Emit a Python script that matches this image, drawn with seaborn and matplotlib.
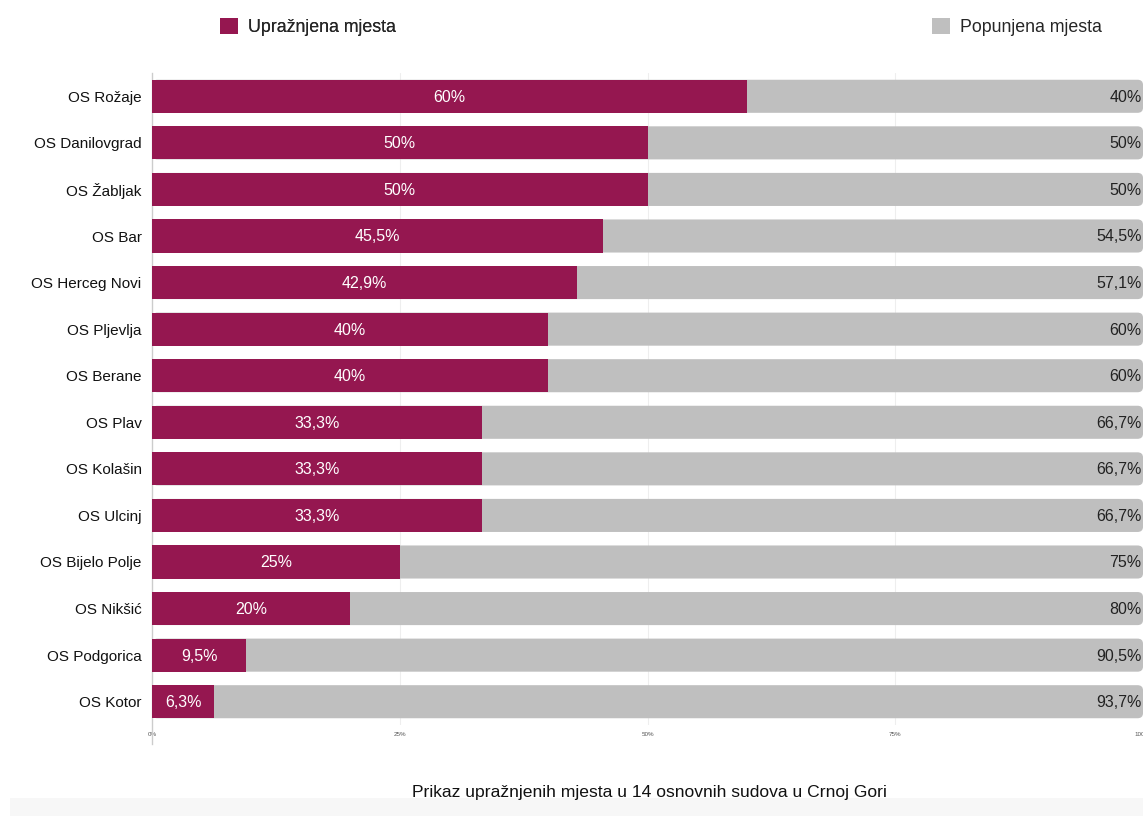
import matplotlib
matplotlib.use("Agg")
import matplotlib.pyplot as plt
import seaborn as sns
import pandas as pd
from matplotlib.patches import FancyBboxPatch, Patch, Rectangle

courts = ["OS Rožaje", "OS Danilovgrad", "OS Žabljak", "OS Bar", "OS Herceg Novi",
          "OS Pljevlja", "OS Berane", "OS Plav", "OS Kolašin", "OS Ulcinj",
          "OS Bijelo Polje", "OS Nikšić", "OS Podgorica", "OS Kotor"]
vacant = [60, 50, 50, 45.5, 42.9, 40, 40, 33.3, 33.3, 33.3, 25, 20, 9.5, 6.3]
filled = [40, 50, 50, 54.5, 57.1, 60, 60, 66.7, 66.7, 66.7, 75, 80, 90.5, 93.7]
xticks = [0, 25, 50, 75, 100]
xticklabels = ["0%", "25%", "50%", "75%", "100%"]
legend_labels = ["Upražnjena mjesta", "Popunjena mjesta"]
caption = "Prikaz upražnjenih mjesta u 14 osnovnih sudova u Crnoj Gori"

C_VAC = "#951750"
C_FIL = "#BFBFBF"

sns.set_theme(style="white")
plt.rcParams["font.family"] = ["Liberation Sans", "DejaVu Sans"]

df = pd.DataFrame({"court": courts, "vacant": vacant, "filled": filled})
df["total"] = df["vacant"] + df["filled"]

fig = plt.figure(figsize=(11.43, 8.16), dpi=100)
H = 816.0
ax = fig.add_axes([152 / 1143, 1 - 725 / H, (1143 - 152) / 1143, (725 - 73) / H])

sns.barplot(data=df, y="court", x="total", color=C_FIL, orient="h", width=0.71,
            ax=ax, saturation=1, linewidth=0, zorder=2)
# replace gray bars with rounded ones
gray_patches = list(ax.patches)
for p in gray_patches:
    x0, y0, w, h = p.get_x(), p.get_y(), p.get_width(), p.get_height()
    p.remove()
    fb = FancyBboxPatch((x0, y0), w, h,
                        boxstyle="round,pad=0,rounding_size=0.55",
                        mutation_aspect=0.2,
                        facecolor=C_FIL, edgecolor="none", zorder=2)
    ax.add_patch(fb)

sns.barplot(data=df, y="court", x="vacant", color=C_VAC, orient="h", width=0.71,
            ax=ax, saturation=1, linewidth=0, zorder=3)

def fmt(v):
    s = f"{v:.1f}".rstrip("0").rstrip(".")
    return s.replace(".", ",") + "%"

for i, (v, f) in enumerate(zip(vacant, filled)):
    ax.text(v / 2, i + 0.02, fmt(v), ha="center", va="center", color="white",
            fontsize=11.5, zorder=4)
    ax.text(v + f - 0.15, i + 0.02, fmt(f), ha="right", va="center", color="#222222",
            fontsize=11.5, zorder=4)

ax.set_xlim(0, 100)
ax.set_ylim(13.5, -0.5)
ax.set_xticks(xticks)
ax.set_xticklabels(xticklabels, fontsize=4.5, color="#555555")
ax.set_xlabel("")
ax.set_ylabel("")
ax.tick_params(axis="y", labelsize=11, labelcolor="#111111", length=0, pad=7.5)
ax.tick_params(axis="x", length=0, pad=5)
for x in xticks[1:-1]:
    ax.axvline(x, color="#EEEEEE", lw=0.8, zorder=1)
for s in ["top", "right", "bottom"]:
    ax.spines[s].set_visible(False)
ax.spines["left"].set_color("#CCCCCC")
ax.spines["left"].set_linewidth(1.0)
ax.spines["left"].set_bounds(13.9, -0.5)
ax.spines["left"].set_clip_on(False)

# legends
h1 = Patch(facecolor=C_VAC, edgecolor="none")
h2 = Patch(facecolor=C_FIL, edgecolor="none")
leg1 = fig.legend([h1], [legend_labels[0]], loc="center left",
                  bbox_to_anchor=(204 / 1143, 1 - 27 / H), frameon=False,
                  fontsize=12.8, handlelength=1.0, handleheight=1.0, handletextpad=0.6)
fig.add_artist(leg1)
leg2 = fig.legend([h2], [legend_labels[1]], loc="center left",
                  bbox_to_anchor=(916 / 1143, 1 - 27 / H), frameon=False,
                  fontsize=12.8, handlelength=1.0, handleheight=1.0, handletextpad=0.6)

# bottom band and caption
fig.add_artist(Rectangle((10 / 1143, 0), 1, 18 / H, transform=fig.transFigure,
                         facecolor="#F7F7F7", edgecolor="none", zorder=0))
fig.text(649 / 1143, 1 - 793 / H, caption, ha="center", va="center",
         fontsize=12.6, color="#111111")

fig.savefig("out.png", dpi=100)
